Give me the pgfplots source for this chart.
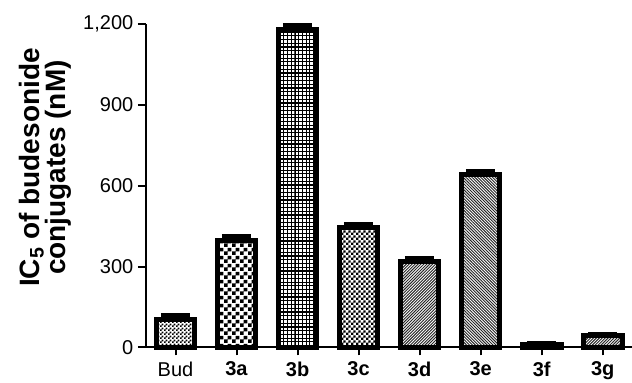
\documentclass[border=0pt]{standalone}
\usepackage{fontspec}
\setmainfont{Liberation Sans}
\usepackage{pgfplots}
\pgfplotsset{compat=1.18}
\usetikzlibrary{patterns}
\pgfdeclarepatternformonly{bigcheck}{\pgfqpoint{0pt}{0pt}}{\pgfqpoint{6pt}{6pt}}{\pgfqpoint{6pt}{6pt}}{%
\pgfpathrectangle{\pgfqpoint{0pt}{0pt}}{\pgfqpoint{3pt}{3pt}}%
\pgfpathrectangle{\pgfqpoint{3pt}{3pt}}{\pgfqpoint{3pt}{3pt}}\pgfusepath{fill}}
\pgfdeclarepatternformonly{smallcheck}{\pgfqpoint{0pt}{0pt}}{\pgfqpoint{3pt}{3pt}}{\pgfqpoint{3pt}{3pt}}{%
\pgfpathrectangle{\pgfqpoint{0pt}{0pt}}{\pgfqpoint{1.5pt}{1.5pt}}%
\pgfpathrectangle{\pgfqpoint{1.5pt}{1.5pt}}{\pgfqpoint{1.5pt}{1.5pt}}\pgfusepath{fill}}
\pgfdeclarepatternformonly{midcheck}{\pgfqpoint{0pt}{0pt}}{\pgfqpoint{3.6pt}{3.6pt}}{\pgfqpoint{3.6pt}{3.6pt}}{%
\pgfpathrectangle{\pgfqpoint{0pt}{0pt}}{\pgfqpoint{1.8pt}{1.8pt}}%
\pgfpathrectangle{\pgfqpoint{1.8pt}{1.8pt}}{\pgfqpoint{1.8pt}{1.8pt}}\pgfusepath{fill}}
\pgfdeclarepatternformonly{finegrid}{\pgfqpoint{-0.5pt}{-0.5pt}}{\pgfqpoint{2.8pt}{2.8pt}}{\pgfqpoint{2.8pt}{2.8pt}}{%
\pgfsetlinewidth{0.9pt}%
\pgfpathmoveto{\pgfqpoint{0pt}{0pt}}\pgfpathlineto{\pgfqpoint{2.8pt}{0pt}}%
\pgfpathmoveto{\pgfqpoint{0pt}{0pt}}\pgfpathlineto{\pgfqpoint{0pt}{2.8pt}}\pgfusepath{stroke}}
\pgfdeclarepatternformonly{nelines}{\pgfqpoint{-1pt}{-1pt}}{\pgfqpoint{3pt}{3pt}}{\pgfqpoint{2.2pt}{2.2pt}}{%
\pgfsetlinewidth{0.7pt}%
\pgfpathmoveto{\pgfqpoint{0pt}{0pt}}\pgfpathlineto{\pgfqpoint{2.3pt}{2.3pt}}\pgfusepath{stroke}}
\pgfdeclarepatternformonly{nwlines}{\pgfqpoint{-1pt}{-1pt}}{\pgfqpoint{3pt}{3pt}}{\pgfqpoint{2.2pt}{2.2pt}}{%
\pgfsetlinewidth{0.7pt}%
\pgfpathmoveto{\pgfqpoint{0pt}{2.2pt}}\pgfpathlineto{\pgfqpoint{2.2pt}{0pt}}\pgfusepath{stroke}}
\pgfplotsset{eb/.style={error bars/.cd, y dir=plus, y explicit, error mark=|,
    error bar style={line width=3.75pt, black},
    error mark options={line width=3.75pt, mark size=11pt, black}}}
\begin{document}
\begin{tikzpicture}
\path[use as bounding box] (-109.5pt,-26.6pt) rectangle (364.5pt,260.6pt);
\begin{axis}[
  at={(0,0)}, anchor=south west,
  scale only axis,
  width=364.5pt, height=242.6pt,
  xmin=-0.484, xmax=7.48,
  ymin=0, ymax=1200,
  axis lines*=left,
  axis line style={line width=1.5pt},
  every tick/.style={line width=1.5pt, black},
  tick align=outside,
  major tick length=6pt,
  xtick={0,...,7},
  xticklabels={Bud,\textbf{3a},\textbf{3b},\textbf{3c},\textbf{3d},\textbf{3e},\textbf{3f},\textbf{3g}},
  ytick={0,300,600,900,1200},
  /pgf/number format/assume math mode=true,
  /pgf/number format/1000 sep={,},
  tick label style={font=\fontsize{15}{17}\selectfont},
  xticklabel style={yshift=-1pt},
  ylabel={\textbf{IC\textsubscript{5} of budesonide}\\\textbf{conjugates (nM)}},
  ylabel style={at={(ticklabel cs:0.556)}, align=center, font=\fontsize{21}{18}\selectfont, yshift=2pt},
  ybar, bar width=29pt, bar shift=0pt,
  every axis plot/.append style={draw=black, line width=3.75pt},
  clip=false,
]
\addplot[pattern=smallcheck, pattern color=black, eb] coordinates {(0,105) +- (0,12)};
\addplot[pattern=bigcheck, pattern color=black, eb] coordinates {(1,398) +- (0,12)};
\addplot[pattern=finegrid, pattern color=black, eb] coordinates {(2,1181) +- (0,12)};
\addplot[pattern=midcheck, pattern color=black, eb] coordinates {(3,446) +- (0,10)};
\addplot[pattern=nelines, pattern color=black!85, eb] coordinates {(4,320) +- (0,10)};
\addplot[pattern=nwlines, pattern color=black!85, eb] coordinates {(5,641) +- (0,10)};
\addplot[fill=black, eb] coordinates {(6,10) +- (0,6)};
\addplot[pattern=nelines, pattern color=black!85, eb] coordinates {(7,43) +- (0,6)};
\end{axis}
\end{tikzpicture}
\end{document}
